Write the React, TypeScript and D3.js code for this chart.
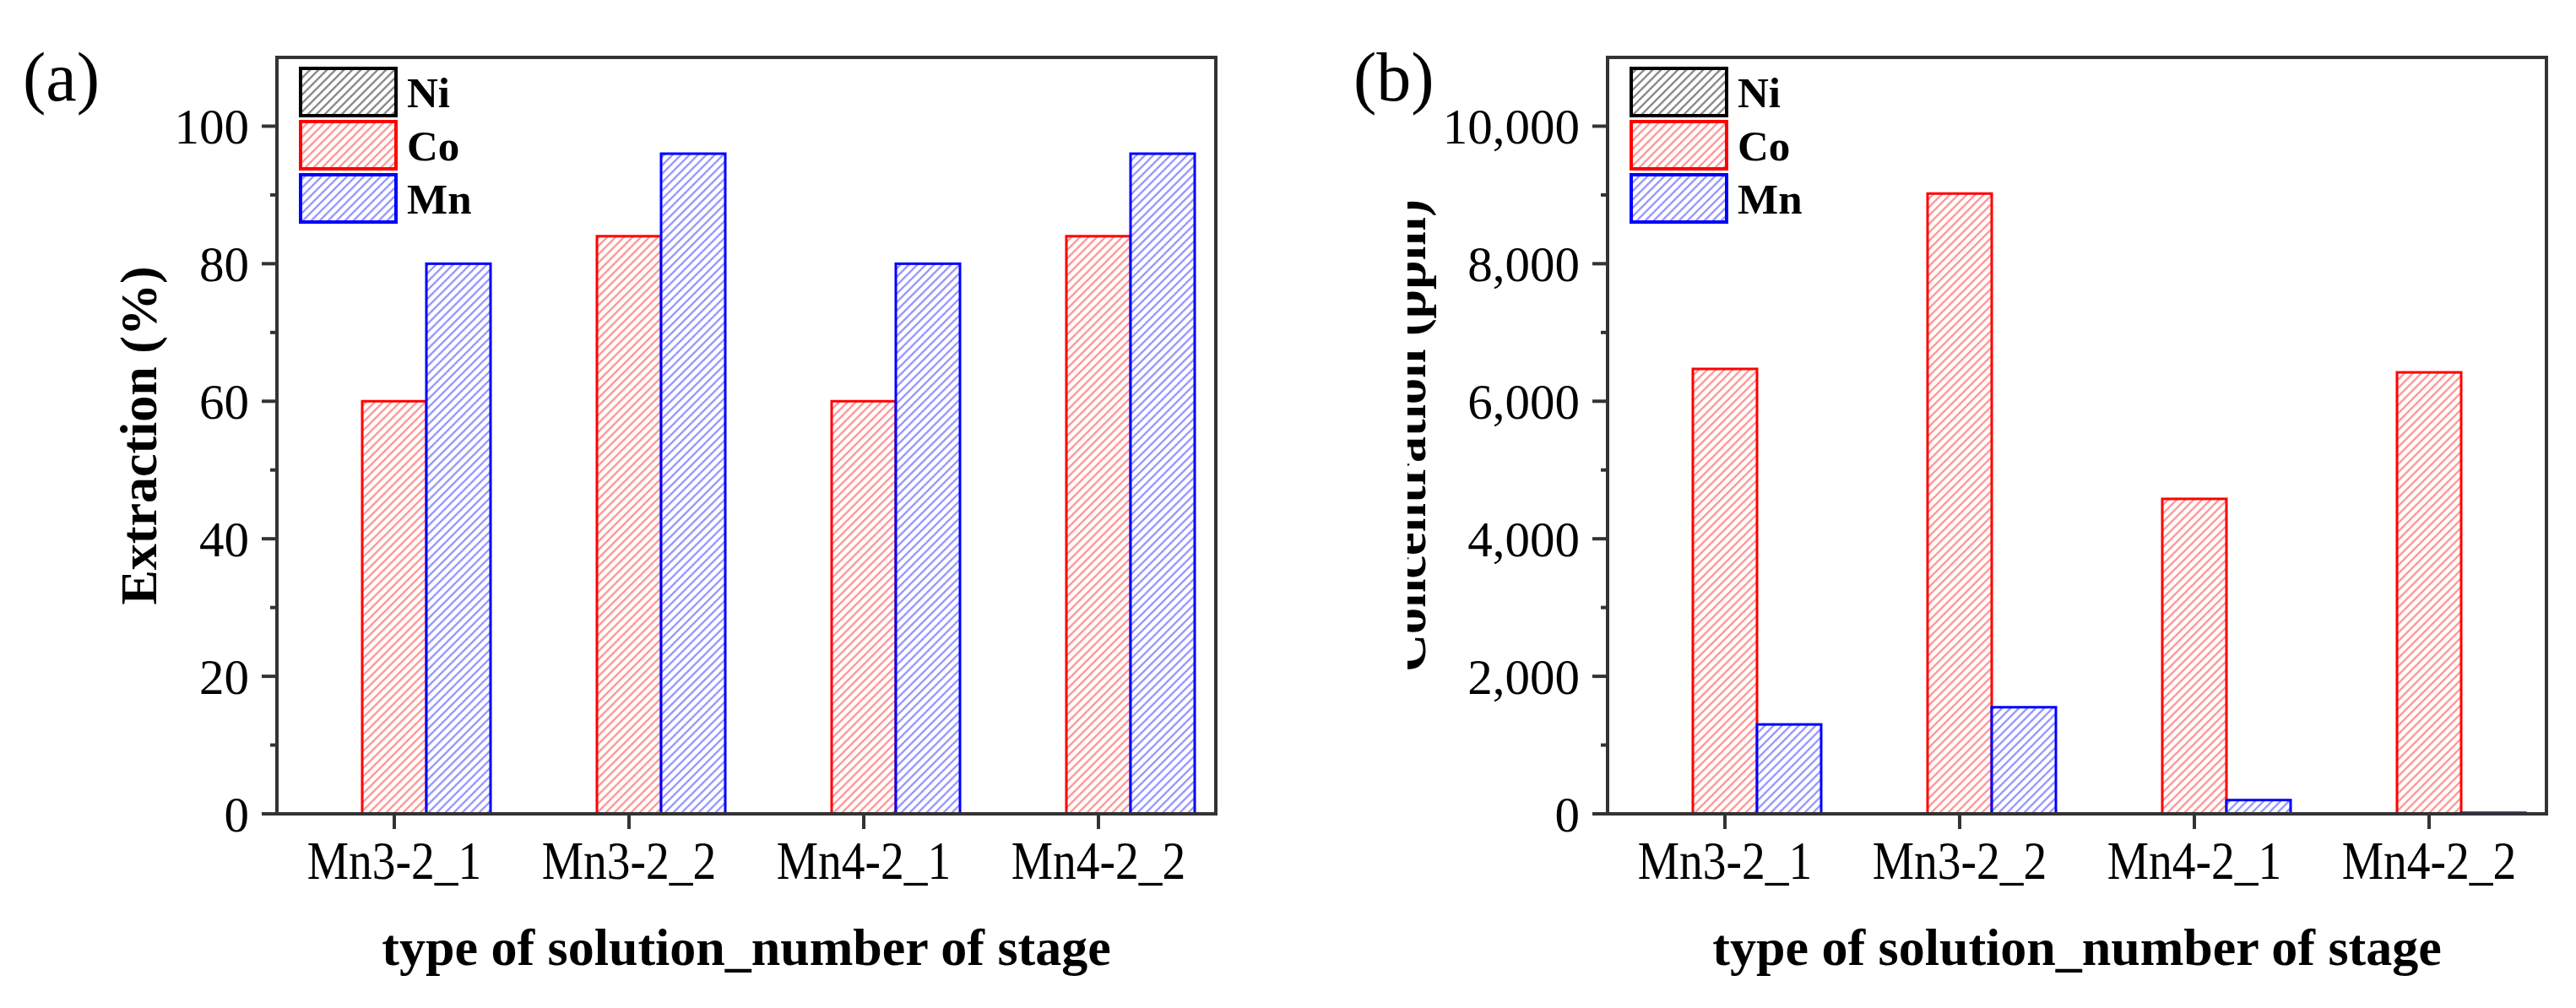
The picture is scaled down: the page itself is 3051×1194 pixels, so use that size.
import React from 'react';
import * as d3 from 'd3';

// categories and series
const categories = ['Mn3-2_1', 'Mn3-2_2', 'Mn4-2_1', 'Mn4-2_2'];
const seriesNames = ['Ni', 'Co', 'Mn'];

// (a) extraction, %
const extractionNi = [0, 0, 0, 0];
const extractionCo = [60, 84, 60, 84];
const extractionMn = [80, 96, 80, 96];

// (b) concentration, ppm
const concNi = [0, 0, 0, 0];
const concCo = [6470, 9020, 4580, 6420];
const concMn = [1300, 1550, 200, 15];

const ticksA = [0, 20, 40, 60, 80, 100];
const ticksB = [0, 2000, 4000, 6000, 8000, 10000];

const SERIES_STYLE: Record<string, { stroke: string; hatch: string }> = {
  Ni: { stroke: '#000000', hatch: '#8c8c8c' },
  Co: { stroke: '#ff0000', hatch: '#ff9a9a' },
  Mn: { stroke: '#0000ff', hatch: '#9a9aff' },
};

const FONT = "'Liberation Serif', 'Times New Roman', serif";
const W = 3051;
const H = 1194;

interface PanelProps {
  id: string;
  left: number;
  label: string;
  yTitle: string;
  yMax: number;
  majorTicks: number[];
  minorStep: number;
  values: number[][];
  format: (n: number) => string;
  clipTitleAt?: number;
}

const Panel: React.FC<PanelProps> = ({ id, left, label, yTitle, yMax, majorTicks, minorStep, values, format, clipTitleAt }) => {
  const top = 68;
  const bottom = 964;
  const right = left + 1112;

  const x0 = d3.scaleBand<string>().domain(categories).range([left, right]).paddingInner(0).paddingOuter(0);
  const x1 = d3.scaleBand<string>().domain(seriesNames).range([0, x0.bandwidth()]).paddingInner(0).paddingOuter(0.329);
  const y = d3.scaleLinear().domain([0, yMax]).range([bottom, top]);

  const minorTicks = d3.range(minorStep, yMax, minorStep * 2);
  const frame = '#333333';

  return (
    <g>
      <text x={left - 301} y={119} fontFamily={FONT} fontSize={82}>{label}</text>

      {/* bars */}
      {seriesNames.map((s, si) => (
        <g key={s}>
          {categories.map((c, ci) => {
            const v = values[si][ci];
            const h = bottom - y(v);
            if (h <= 0) return null;
            return (
              <rect
                key={c}
                x={(x0(c) ?? 0) + (x1(s) ?? 0)}
                y={y(v)}
                width={x1.bandwidth()}
                height={h}
                fill={`url(#hatch-${id}-${s})`}
                stroke={SERIES_STYLE[s].stroke}
                strokeWidth={3}
              />
            );
          })}
        </g>
      ))}

      {/* frame */}
      <rect x={left} y={top} width={right - left} height={bottom - top} fill="none" stroke={frame} strokeWidth={4} />

      {/* y ticks */}
      {majorTicks.map(t => (
        <g key={t}>
          <line x1={left - 18} x2={left} y1={y(t)} y2={y(t)} stroke={frame} strokeWidth={4} />
          <text x={left - 33} y={y(t)} dy="0.35em" textAnchor="end" fontFamily={FONT} fontSize={59}>{format(t)}</text>
        </g>
      ))}
      {minorTicks.map(t => (
        <line key={t} x1={left - 8} x2={left} y1={y(t)} y2={y(t)} stroke={frame} strokeWidth={4} />
      ))}

      {/* x ticks */}
      {categories.map(c => {
        const cx = (x0(c) ?? 0) + x0.bandwidth() / 2;
        return (
          <g key={c}>
            <line x1={cx} x2={cx} y1={bottom} y2={bottom + 18} stroke={frame} strokeWidth={4} />
            <text transform={`translate(${cx}, 1041) scale(0.88, 1)`} textAnchor="middle" fontFamily={FONT} fontSize={63}>{c}</text>
          </g>
        );
      })}

      {/* axis titles */}
      <text x={(left + right) / 2} y={1143} textAnchor="middle" fontFamily={FONT} fontSize={62} fontWeight="bold">
        type of solution_number of stage
      </text>
      <g clipPath={clipTitleAt ? `url(#clip-${id})` : undefined}>
        <text
          transform={`translate(${clipTitleAt ? left - 216 : left - 143}, ${(top + bottom) / 2}) rotate(-90)`}
          textAnchor="middle"
          fontFamily={FONT}
          fontSize={62}
          fontWeight="bold"
        >
          {yTitle}
        </text>
      </g>

      {/* legend */}
      {seriesNames.map((s, i) => {
        const ly = 81 + i * 63;
        return (
          <g key={s}>
            <rect x={left + 28} y={ly} width={113} height={56} fill={`url(#hatch-${id}-${s})`} stroke={SERIES_STYLE[s].stroke} strokeWidth={4} />
            <text x={left + 154} y={ly + 46} fontFamily={FONT} fontSize={51} fontWeight="bold">{s}</text>
          </g>
        );
      })}
    </g>
  );
};

const Defs: React.FC<{ id: string; clipAt?: number }> = ({ id, clipAt }) => (
  <defs>
    {seriesNames.map(s => (
      <pattern key={s} id={`hatch-${id}-${s}`} patternUnits="userSpaceOnUse" width={10} height={10}>
        <rect width={10} height={10} fill="#ffffff" />
        <path d="M-2,2 L2,-2 M0,10 L10,0 M8,12 L12,8" stroke={SERIES_STYLE[s].hatch} strokeWidth={2.4} />
      </pattern>
    ))}
    {clipAt !== undefined && (
      <clipPath id={`clip-${id}`}>
        <rect x={clipAt} y={0} width={200} height={H} />
      </clipPath>
    )}
  </defs>
);

export default function App() {
  const fmtA = (n: number) => d3.format('d')(n);
  const fmtB = (n: number) => d3.format(',')(n);
  return (
    <svg width={W} height={H} style={{ position: 'absolute', left: 0, top: 0, background: '#fff' }}>
      <Defs id="a" />
      <Defs id="b" clipAt={1667} />
      <rect width={W} height={H} fill="#ffffff" />
      <Panel
        id="a"
        left={328}
        label="(a)"
        yTitle="Extraction (%)"
        yMax={110}
        majorTicks={ticksA}
        minorStep={10}
        values={[extractionNi, extractionCo, extractionMn]}
        format={fmtA}
      />
      <Panel
        id="b"
        left={1904}
        label="(b)"
        yTitle="Concentration (ppm)"
        yMax={11000}
        majorTicks={ticksB}
        minorStep={1000}
        values={[concNi, concCo, concMn]}
        format={fmtB}
        clipTitleAt={1667}
      />
    </svg>
  );
}
